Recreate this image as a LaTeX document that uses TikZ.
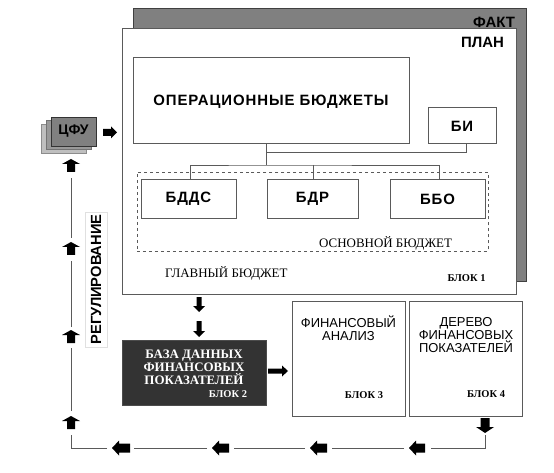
\documentclass[tikz,border=0pt]{standalone}
\usepackage{fontspec}
\setmainfont{Liberation Sans}
\newfontfamily\serifrm{Liberation Serif}
\newfontfamily\serifbf{Liberation Serif Bold}
\newfontfamily\sanswide[LetterSpace=6]{Liberation Sans}
\usetikzlibrary{fit}
\definecolor{edge}{HTML}{5A5A5A}
\definecolor{factgray}{HTML}{808080}
\definecolor{dbfill}{HTML}{333333}
\tikzset{
  box/.style={draw=edge, line width=0.9bp, fill=white, inner sep=0pt},
  conn/.style={draw=edge, line width=0.9bp},
  txt/.style={inner sep=0pt, outer sep=0pt},
  sansb/.style={txt, font=\bfseries\fontsize{15}{15}\selectfont},
  sanswb/.style={txt, font=\sanswide\bfseries\fontsize{15}{15}\selectfont},
  pics/barr/.style n args={4}{code={
    \fill[black] (0,-#2/2) -- ({#1-#4},-#2/2) -- ({#1-#4},-#3/2) -- (#1,0)
      -- ({#1-#4},#3/2) -- ({#1-#4},#2/2) -- (0,#2/2) -- cycle;}}
}
\begin{document}
\begin{tikzpicture}[x=1bp,y=-1bp]
\useasboundingbox (0,0) rectangle (554,473);

% FACT and PLAN frames
\node[box, fill=factgray, draw=black!75, fit={(133,8)(526,281)}] (fact) {};
\node[box, fit={(122,28)(516,294)}] (plan) {};
\node[sansb, anchor=east] (factlbl) at (515,22) {ФАКТ};
\node[sansb, anchor=east] (planlbl) at (504,42) {ПЛАН};

% operational budgets and BI
\node[box, fit={(133,57)(409,143)}] (ops) {};
\node[sanswb] (opslbl) at (271,102) {ОПЕРАЦИОННЫЕ БЮДЖЕТЫ};
\node[box, fit={(428,107)(496,143)}] (bi) {};
\node[sanswb] (bilbl) at (462,126) {БИ};

% master budget dashed area
\node[draw=edge, dashed, line width=0.9bp, inner sep=0pt, fit={(137,172)(488,251)}] (main) {};
\node[box, fit={(141,179)(236,218)}] (bdds) {};
\node[box, fit={(267,179)(358,218)}] (bdr) {};
\node[box, fit={(390,179)(485,218)}] (bbo) {};
\node[sanswb] at (188.5,199) {БДДС};
\node[sanswb] at (312.5,199) {БДР};
\node[sanswb] at (437.5,199) {ББО};
\node[txt, font=\serifrm\fontsize{13}{13}\selectfont, anchor=east] (osn) at (452,243) {ОСНОВНОЙ БЮДЖЕТ};
\node[txt, font=\serifrm\fontsize{13}{13}\selectfont, anchor=west] (glav) at (165,273) {ГЛАВНЫЙ БЮДЖЕТ};
\node[txt, font=\serifbf\fontsize{10.5}{10.5}\selectfont] (blk1) at (466.5,278) {БЛОК 1};

% connectors inside block 1
\coordinate (j1) at (266,152);
\coordinate (j2) at (266,165);
\draw[conn] (ops.south -| j1) -- (j2);
\draw[conn] (j1) -| (bi.south -| 466,0);
\draw[conn] (bdds.north -| 190,0) |- (j2) -| (bbo.north -| 439,0);
\draw[conn] (j2 -| 313,0) -- (bdr.north -| 313,0);

% CFU stack
\node[draw=black!45, fill=black!25, line width=0.8bp, inner sep=0pt, fit={(41,124)(86,153)}] (cfu3) {};
\node[draw=black!55, fill=black!40, line width=0.8bp, inner sep=0pt, fit={(46,120.5)(91,149.5)}] (cfu2) {};
\node[draw=black!80, fill=factgray, line width=0.8bp, inner sep=0pt, fit={(51,117)(96,146)}] (cfu) {};
\node[txt, font=\bfseries\fontsize{14}{14}\selectfont] at (73.5,131.5) {ЦФУ};
\pic at (103,132.5) {barr={14}{7}{12}{6}};

% regulation label
\node[draw=black!12, fill=white, line width=0.8bp, rotate=90, minimum width=135bp, minimum height=22bp, inner sep=0pt] (reg) at (96,279.5)
  {\resizebox{130bp}{!}{\bfseries\fontsize{14}{14}\selectfont РЕГУЛИРОВАНИЕ}};

% block 2, 3, 4
\node[draw=black!70, fill=dbfill, line width=0.9bp, inner sep=0pt, fit={(122,340)(266,405)}] (db) {};
\node[txt, text=white, font=\serifbf\fontsize{13}{13}\selectfont] (db1) at (194,356) {БАЗА ДАННЫХ};
\node[txt, text=white, font=\serifbf\fontsize{13}{13}\selectfont] (db2) at (194,367.5) {ФИНАНСОВЫХ};
\node[txt, text=white, font=\serifbf\fontsize{13}{13}\selectfont] (db3) at (194,379.5) {ПОКАЗАТЕЛЕЙ};
\node[txt, text=white, font=\serifbf\fontsize{10.5}{10.5}\selectfont] (blk2) at (228,394.5) {БЛОК 2};

\node[box, fit={(292,301)(405,416)}] (fa) {};
\node[txt, align=center, font=\fontsize{13}{13}\selectfont] at (348.5,328.5) {ФИНАНСОВЫЙ\\АНАЛИЗ};
\node[txt, font=\serifbf\fontsize{10.5}{10.5}\selectfont] (blk3) at (364,395.5) {БЛОК 3};

\node[box, fit={(409,301)(522,416)}] (tree) {};
\node[txt, align=center, font=\fontsize{13}{13}\selectfont] at (466,335) {ДЕРЕВО\\ФИНАНСОВЫХ\\ПОКАЗАТЕЛЕЙ};
\node[txt, font=\serifbf\fontsize{10.5}{10.5}\selectfont] (blk4) at (486,394.5) {БЛОК 4};

% arrows between blocks
\pic[rotate=-90] at (199,297) {barr={15}{5}{12}{6}};
\pic[rotate=-90] at (199,321) {barr={16}{5}{12}{6}};
\pic at (268,371) {barr={20}{5}{11}{6}};

% feedback loop
\coordinate (r1) at (485,435);
\coordinate (c1) at (485,448);
\coordinate (c2) at (71,448);
\pic[rotate=-90] at (485,418) {barr={15}{9}{18}{6}};
\draw[conn] (r1) -- (c1) -- (431,448);
\pic[rotate=180] at (425,448) {barr={16}{9}{15}{7}};
\draw[conn] (404,448) -- (332,448);
\pic[rotate=180] at (327,448) {barr={17}{9}{15}{7}};
\draw[conn] (305,448) -- (234,448);
\pic[rotate=180] at (229,448) {barr={17}{9}{15}{7}};
\draw[conn] (207,448) -- (134,448);
\pic[rotate=180] at (130,448) {barr={18}{9}{15}{7}};
\draw[conn] (107,448) -- (c2) -- (71,435);
\pic[rotate=90] at (71,429) {barr={13}{8}{18}{5}};
\draw[conn] (71,411) -- (71,348);
\pic[rotate=90] at (71,343) {barr={13}{8}{18}{5}};
\draw[conn] (71,327) -- (71,261);
\pic[rotate=90] at (71,255) {barr={13}{8}{18}{5}};
\draw[conn] (71,238) -- (71,178);
\pic[rotate=90] at (71,172) {barr={13}{8}{18}{5}};
\end{tikzpicture}
\end{document}
